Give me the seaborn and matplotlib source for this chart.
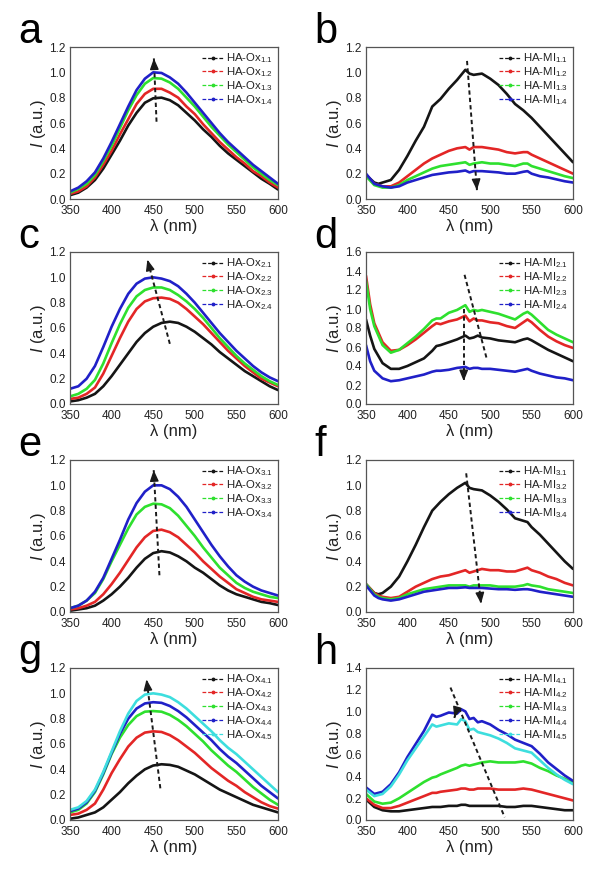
import numpy as np
import pandas as pd
import matplotlib
matplotlib.use("Agg")
import matplotlib.pyplot as plt
from matplotlib.lines import Line2D
from matplotlib.ticker import MultipleLocator
import seaborn as sns

sns.set_theme(style="white")
plt.rcParams['font.family'] = ['Liberation Sans', 'DejaVu Sans']
plt.rcParams['mathtext.fontset'] = 'custom'
plt.rcParams['mathtext.rm'] = 'Liberation Sans'
plt.rcParams['mathtext.it'] = 'Liberation Sans:italic'

# ---------------- data ----------------
wl_ox = [350, 360, 370, 380, 390, 400, 410, 420, 430, 440, 450, 460, 470,
         480, 490, 500, 510, 520, 530, 540, 550, 560, 570, 580, 590, 600]

a_labels = ["HA-Ox$_{1.1}$", "HA-Ox$_{1.2}$", "HA-Ox$_{1.3}$", "HA-Ox$_{1.4}$"]
a_11 = [0.03, 0.05, 0.09, 0.15, 0.24, 0.35, 0.46, 0.58, 0.68, 0.76, 0.795, 0.80, 0.78,
        0.74, 0.68, 0.62, 0.55, 0.49, 0.42, 0.36, 0.31, 0.26, 0.21, 0.16, 0.12, 0.075]
a_12 = [0.04, 0.06, 0.10, 0.17, 0.27, 0.38, 0.51, 0.63, 0.75, 0.83, 0.87, 0.87, 0.84,
        0.80, 0.73, 0.67, 0.59, 0.52, 0.45, 0.39, 0.33, 0.28, 0.22, 0.18, 0.13, 0.09]
a_13 = [0.05, 0.08, 0.12, 0.19, 0.30, 0.42, 0.56, 0.70, 0.82, 0.91, 0.955, 0.95, 0.92,
        0.87, 0.80, 0.73, 0.65, 0.57, 0.50, 0.43, 0.37, 0.31, 0.25, 0.20, 0.15, 0.11]
a_14 = [0.06, 0.09, 0.14, 0.21, 0.32, 0.45, 0.59, 0.73, 0.86, 0.95, 1.00, 0.995, 0.96,
        0.91, 0.84, 0.76, 0.68, 0.60, 0.52, 0.45, 0.39, 0.33, 0.27, 0.22, 0.17, 0.12]

c_labels = ["HA-Ox$_{2.1}$", "HA-Ox$_{2.2}$", "HA-Ox$_{2.3}$", "HA-Ox$_{2.4}$"]
c_21 = [0.02, 0.03, 0.05, 0.08, 0.14, 0.22, 0.31, 0.40, 0.49, 0.56, 0.61, 0.64, 0.65,
        0.64, 0.61, 0.57, 0.52, 0.47, 0.41, 0.36, 0.31, 0.26, 0.22, 0.18, 0.14, 0.11]
c_22 = [0.04, 0.05, 0.08, 0.13, 0.24, 0.38, 0.52, 0.65, 0.75, 0.81, 0.835, 0.84, 0.83,
        0.80, 0.75, 0.69, 0.63, 0.56, 0.49, 0.42, 0.36, 0.30, 0.25, 0.20, 0.17, 0.14]
c_23 = [0.06, 0.08, 0.12, 0.19, 0.32, 0.48, 0.63, 0.76, 0.85, 0.90, 0.92, 0.92, 0.90,
        0.86, 0.81, 0.75, 0.68, 0.60, 0.52, 0.45, 0.38, 0.32, 0.27, 0.22, 0.18, 0.15]
c_24 = [0.12, 0.14, 0.20, 0.30, 0.45, 0.61, 0.75, 0.87, 0.95, 0.99, 1.00, 0.99, 0.97,
        0.93, 0.87, 0.80, 0.72, 0.64, 0.56, 0.49, 0.42, 0.36, 0.30, 0.25, 0.21, 0.18]

e_labels = ["HA-Ox$_{3.1}$", "HA-Ox$_{3.2}$", "HA-Ox$_{3.3}$", "HA-Ox$_{3.4}$"]
e_31 = [0.01, 0.02, 0.03, 0.05, 0.09, 0.14, 0.20, 0.27, 0.35, 0.42, 0.465, 0.48, 0.47,
        0.44, 0.40, 0.35, 0.31, 0.26, 0.21, 0.17, 0.14, 0.12, 0.10, 0.08, 0.07, 0.055]
e_32 = [0.02, 0.03, 0.05, 0.08, 0.14, 0.22, 0.31, 0.41, 0.51, 0.59, 0.64, 0.65, 0.63,
        0.59, 0.53, 0.47, 0.40, 0.34, 0.28, 0.23, 0.18, 0.15, 0.12, 0.10, 0.09, 0.08]
e_33 = [0.03, 0.05, 0.09, 0.15, 0.26, 0.40, 0.53, 0.66, 0.77, 0.83, 0.855, 0.85, 0.82,
        0.76, 0.68, 0.60, 0.51, 0.43, 0.35, 0.29, 0.23, 0.19, 0.16, 0.14, 0.12, 0.11]
e_34 = [0.03, 0.05, 0.09, 0.16, 0.27, 0.42, 0.57, 0.73, 0.86, 0.95, 1.00, 1.00, 0.97,
        0.91, 0.83, 0.73, 0.63, 0.53, 0.44, 0.36, 0.29, 0.24, 0.20, 0.17, 0.15, 0.13]

g_labels = ["HA-Ox$_{4.1}$", "HA-Ox$_{4.2}$", "HA-Ox$_{4.3}$", "HA-Ox$_{4.4}$", "HA-Ox$_{4.5}$"]
g_41 = [0.01, 0.02, 0.04, 0.06, 0.10, 0.16, 0.22, 0.29, 0.35, 0.40, 0.43, 0.44, 0.435,
        0.42, 0.39, 0.36, 0.32, 0.28, 0.24, 0.21, 0.18, 0.15, 0.12, 0.10, 0.08, 0.06]
g_42 = [0.04, 0.05, 0.08, 0.13, 0.24, 0.37, 0.48, 0.58, 0.65, 0.69, 0.70, 0.695, 0.67,
        0.63, 0.58, 0.53, 0.47, 0.41, 0.36, 0.31, 0.27, 0.22, 0.18, 0.14, 0.11, 0.09]
g_43 = [0.06, 0.08, 0.13, 0.22, 0.36, 0.52, 0.65, 0.75, 0.82, 0.855, 0.86, 0.855, 0.83,
        0.79, 0.74, 0.68, 0.62, 0.55, 0.49, 0.43, 0.38, 0.32, 0.26, 0.21, 0.16, 0.12]
g_44 = [0.07, 0.09, 0.14, 0.23, 0.37, 0.53, 0.68, 0.80, 0.88, 0.92, 0.93, 0.925, 0.90,
        0.86, 0.81, 0.75, 0.69, 0.63, 0.56, 0.50, 0.45, 0.39, 0.33, 0.27, 0.22, 0.17]
g_45 = [0.08, 0.10, 0.15, 0.24, 0.38, 0.54, 0.70, 0.84, 0.94, 0.99, 1.00, 0.99, 0.97,
        0.93, 0.88, 0.82, 0.76, 0.70, 0.63, 0.57, 0.52, 0.46, 0.40, 0.34, 0.28, 0.22]

wl_bf = [350, 360, 365, 370, 380, 390, 400, 410, 420, 430, 440, 450, 460, 470, 475,
         480, 490, 500, 510, 520, 530, 540, 545, 550, 560, 570, 580, 590, 600]

b_labels = ["HA-MI$_{1.1}$", "HA-MI$_{1.2}$", "HA-MI$_{1.3}$", "HA-MI$_{1.4}$"]
b_11 = [0.19, 0.13, 0.12, 0.13, 0.15, 0.23, 0.34, 0.46, 0.57, 0.73, 0.79, 0.87, 0.94, 1.02, 0.99,
        0.98, 0.99, 0.95, 0.90, 0.83, 0.75, 0.70, 0.67, 0.64, 0.57, 0.50, 0.43, 0.36, 0.29]
b_12 = [0.19, 0.12, 0.11, 0.10, 0.10, 0.13, 0.18, 0.23, 0.28, 0.32, 0.35, 0.38, 0.40, 0.41, 0.39,
        0.41, 0.41, 0.40, 0.39, 0.37, 0.36, 0.37, 0.37, 0.35, 0.32, 0.29, 0.26, 0.23, 0.20]
b_13 = [0.18, 0.11, 0.10, 0.09, 0.09, 0.11, 0.15, 0.18, 0.21, 0.24, 0.26, 0.27, 0.28, 0.29, 0.27,
        0.28, 0.29, 0.28, 0.28, 0.27, 0.26, 0.28, 0.28, 0.26, 0.24, 0.22, 0.20, 0.18, 0.165]
b_14 = [0.20, 0.12, 0.11, 0.10, 0.09, 0.10, 0.13, 0.15, 0.17, 0.19, 0.20, 0.21, 0.215, 0.225, 0.21,
        0.22, 0.22, 0.215, 0.21, 0.20, 0.20, 0.215, 0.22, 0.20, 0.18, 0.17, 0.155, 0.14, 0.13]

f_labels = ["HA-MI$_{3.1}$", "HA-MI$_{3.2}$", "HA-MI$_{3.3}$", "HA-MI$_{3.4}$"]
f_31 = [0.22, 0.15, 0.14, 0.15, 0.20, 0.28, 0.40, 0.53, 0.67, 0.80, 0.87, 0.93, 0.98, 1.02, 0.98,
        0.97, 0.96, 0.92, 0.87, 0.81, 0.74, 0.72, 0.71, 0.67, 0.61, 0.54, 0.47, 0.40, 0.34]
f_32 = [0.22, 0.15, 0.13, 0.12, 0.11, 0.12, 0.16, 0.20, 0.23, 0.26, 0.28, 0.29, 0.31, 0.33, 0.31,
        0.32, 0.34, 0.33, 0.33, 0.32, 0.32, 0.34, 0.35, 0.33, 0.31, 0.28, 0.26, 0.23, 0.21]
f_33 = [0.22, 0.14, 0.12, 0.11, 0.10, 0.11, 0.14, 0.16, 0.18, 0.19, 0.20, 0.21, 0.21, 0.21, 0.20,
        0.21, 0.21, 0.21, 0.20, 0.20, 0.20, 0.21, 0.22, 0.21, 0.20, 0.18, 0.17, 0.16, 0.15]
f_34 = [0.21, 0.13, 0.11, 0.10, 0.09, 0.10, 0.12, 0.14, 0.16, 0.17, 0.18, 0.19, 0.19, 0.195, 0.19,
        0.19, 0.19, 0.185, 0.18, 0.18, 0.175, 0.18, 0.18, 0.175, 0.16, 0.15, 0.14, 0.13, 0.12]

wl_d = [350, 355, 360, 370, 380, 390, 400, 410, 420, 430, 435, 440, 450, 460, 470, 475,
        480, 485, 490, 500, 510, 520, 530, 540, 545, 550, 560, 570, 580, 590, 600]
d_labels = ["HA-MI$_{2.1}$", "HA-MI$_{2.2}$", "HA-MI$_{2.3}$", "HA-MI$_{2.4}$"]
d_21 = [0.89, 0.72, 0.58, 0.43, 0.37, 0.37, 0.40, 0.44, 0.48, 0.56, 0.61, 0.62, 0.65, 0.68, 0.72, 0.69,
        0.70, 0.72, 0.70, 0.69, 0.67, 0.66, 0.65, 0.68, 0.69, 0.67, 0.62, 0.57, 0.53, 0.49, 0.45]
d_22 = [1.35, 1.05, 0.85, 0.65, 0.56, 0.57, 0.62, 0.68, 0.75, 0.82, 0.85, 0.84, 0.87, 0.89, 0.93, 0.87,
        0.90, 0.88, 0.88, 0.86, 0.85, 0.82, 0.80, 0.86, 0.89, 0.86, 0.78, 0.71, 0.66, 0.62, 0.59]
d_23 = [1.30, 1.00, 0.82, 0.62, 0.54, 0.57, 0.64, 0.71, 0.79, 0.88, 0.90, 0.90, 0.96, 0.99, 1.04, 0.97,
        0.99, 0.98, 0.99, 0.97, 0.95, 0.92, 0.89, 0.95, 0.97, 0.94, 0.86, 0.78, 0.73, 0.69, 0.65]
d_24 = [0.62, 0.45, 0.35, 0.27, 0.24, 0.25, 0.27, 0.29, 0.31, 0.34, 0.35, 0.35, 0.36, 0.38, 0.39, 0.37,
        0.38, 0.38, 0.37, 0.37, 0.36, 0.35, 0.34, 0.36, 0.37, 0.35, 0.32, 0.30, 0.28, 0.27, 0.25]

wl_h = [350, 360, 370, 380, 390, 400, 410, 420, 430, 435, 440, 450, 460, 465, 470,
        475, 480, 485, 490, 500, 510, 520, 530, 540, 550, 560, 570, 580, 590, 600]
h_labels = ["HA-MI$_{4.1}$", "HA-MI$_{4.2}$", "HA-MI$_{4.3}$", "HA-MI$_{4.4}$", "HA-MI$_{4.5}$"]
h_41 = [0.19, 0.12, 0.09, 0.08, 0.08, 0.09, 0.10, 0.11, 0.12, 0.12, 0.12, 0.13, 0.13, 0.14, 0.14,
        0.13, 0.13, 0.13, 0.13, 0.13, 0.13, 0.12, 0.12, 0.13, 0.13, 0.12, 0.11, 0.10, 0.09, 0.09]
h_42 = [0.20, 0.14, 0.11, 0.11, 0.13, 0.16, 0.19, 0.22, 0.25, 0.25, 0.26, 0.27, 0.28, 0.29, 0.29,
        0.28, 0.28, 0.29, 0.29, 0.29, 0.28, 0.28, 0.28, 0.29, 0.28, 0.26, 0.24, 0.22, 0.20, 0.18]
h_43 = [0.24, 0.17, 0.15, 0.16, 0.20, 0.25, 0.30, 0.35, 0.39, 0.40, 0.42, 0.45, 0.48, 0.50, 0.51,
        0.50, 0.51, 0.52, 0.53, 0.54, 0.53, 0.53, 0.53, 0.54, 0.52, 0.48, 0.45, 0.41, 0.38, 0.34]
h_44 = [0.30, 0.24, 0.26, 0.33, 0.44, 0.58, 0.70, 0.82, 0.97, 0.95, 0.96, 0.99, 0.98, 1.02, 1.00,
        0.93, 0.94, 0.90, 0.91, 0.88, 0.83, 0.79, 0.74, 0.71, 0.68, 0.61, 0.53, 0.47, 0.41, 0.36]
h_45 = [0.28, 0.22, 0.24, 0.31, 0.42, 0.55, 0.66, 0.77, 0.88, 0.86, 0.87, 0.89, 0.88, 0.93, 0.91,
        0.83, 0.84, 0.81, 0.80, 0.78, 0.75, 0.71, 0.66, 0.64, 0.62, 0.55, 0.48, 0.42, 0.37, 0.33]

COLORS = ['#151515', '#e32626', '#2ee02e', '#2020c8', '#3ddede']

# ---------------- layout ----------------
W, H = 600, 875
fig = plt.figure(figsize=(6, 8.75), dpi=100)

col_left = [70, 366]
col_w = [208, 207]
row_top = [47, 252, 460, 668]
ax_h = 152

panels = [
    ('a', 0, 0, wl_ox, [a_11, a_12, a_13, a_14], a_labels, 1.2,
     [((454, 0.61), (450.8, 1.11), True)]),
    ('b', 0, 1, wl_bf, [b_11, b_12, b_13, b_14], b_labels, 1.2,
     [((472, 1.09), (484, 0.07), True)]),
    ('c', 1, 0, wl_ox, [c_21, c_22, c_23, c_24], c_labels, 1.2,
     [((470, 0.475), (443, 1.14), True)]),
    ('d', 1, 1, wl_d, [d_21, d_22, d_23, d_24], d_labels, 1.6,
     [((469, 1.36), (496, 0.47), False), ((468, 1.0), (468, 0.24), True)]),
    ('e', 2, 0, wl_ox, [e_31, e_32, e_33, e_34], e_labels, 1.2,
     [((457.5, 0.29), (450.6, 1.12), True)]),
    ('f', 2, 1, wl_bf, [f_31, f_32, f_33, f_34], f_labels, 1.2,
     [((471, 1.095), (489, 0.066), True)]),
    ('g', 3, 0, wl_ox, [g_41, g_42, g_43, g_44, g_45], g_labels, 1.2,
     [((458.6, 0.25), (442, 1.11), True)]),
    ('h', 3, 1, wl_h, [h_41, h_42, h_43, h_44, h_45], h_labels, 1.4,
     [((452, 1.22), (517.5, 0.025), False), ((460, 1.03), (456.7, 0.94), True)]),
]

for letter, r, c, wl, series, labels, ymax, arrows in panels:
    left = col_left[c] / W
    bottom = 1 - (row_top[r] + ax_h) / H
    ax = fig.add_axes([left, bottom, col_w[c] / W, ax_h / H])

    frames = []
    for lab, vals in zip(labels, series):
        frames.append(pd.DataFrame({'wl': wl, 'I': vals, 'series': lab}))
    df = pd.concat(frames, ignore_index=True)
    pal = dict(zip(labels, COLORS[:len(labels)]))
    sns.lineplot(data=df, x='wl', y='I', hue='series', palette=pal,
                 legend=False, lw=1.9, ax=ax, sort=False)

    ax.set_xlim(350, 600)
    ax.set_ylim(0, ymax)
    ax.xaxis.set_major_locator(MultipleLocator(50))
    ax.xaxis.set_minor_locator(MultipleLocator(25))
    ax.yaxis.set_major_locator(MultipleLocator(0.2))
    ax.yaxis.set_minor_locator(MultipleLocator(0.1))
    ax.yaxis.set_major_formatter(matplotlib.ticker.FormatStrFormatter('%.1f'))
    ax.tick_params(axis='both', which='major', direction='in', length=3.5,
                   width=0.8, labelsize=8.5, colors='#333333',
                   labelcolor='#222222')
    ax.tick_params(axis='x', which='major', pad=4.5)
    ax.tick_params(axis='y', which='major', pad=3)
    ax.tick_params(axis='both', which='minor', direction='in', length=2,
                   width=0.7, colors='#333333')
    for s in ax.spines.values():
        s.set_color('#555555')
        s.set_linewidth(0.9)
    ax.set_xlabel('λ (nm)', fontsize=12, labelpad=1, color='#222222')
    ax.set_ylabel('$\\mathit{I}$ (a.u.)', fontsize=12, labelpad=1, color='#222222')

    handles = [Line2D([0], [0], color=COLORS[i], lw=0.9, ls=(0, (3, 1.5)),
                      marker='.', markersize=3.5)
               for i in range(len(labels))]
    leg = ax.legend(handles, labels, loc='upper right', fontsize=8.2,
                    frameon=False, handlelength=1.8, handletextpad=0.3,
                    labelspacing=0.0, borderaxespad=0.1, borderpad=0.3)
    for t in leg.get_texts():
        t.set_color('#222222')

    for (x0, y0), (x1, y1), head in arrows:
        ax.plot([x0, x1], [y0, y1], color='k', lw=1.4, ls=(0, (2.2, 1.6)))
        if head:
            fx = x1 - (x1 - x0) * 0.08
            fy = y1 - (y1 - y0) * 0.08
            ax.annotate('', xy=(x1, y1), xytext=(fx, fy),
                        arrowprops=dict(arrowstyle='-|>,head_length=0.55,head_width=0.22',
                                        color='k', lw=1.0, shrinkA=0, shrinkB=0))

    lx = 18 / W if c == 0 else 314 / W
    fig.text(lx, 1 - (row_top[r] - 4) / H, letter, fontsize=30,
             va='baseline', ha='left', color='black')

fig.savefig('out.png', dpi=100, facecolor='white')
